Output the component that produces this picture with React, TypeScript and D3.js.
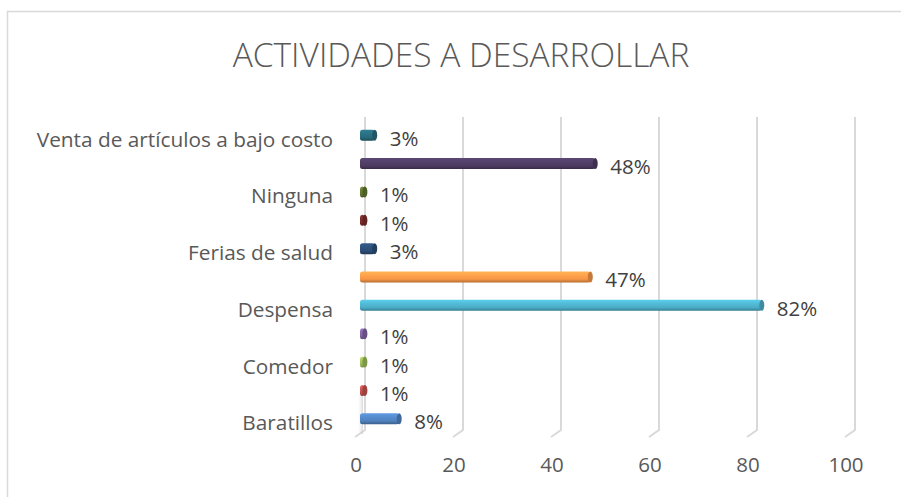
import React from "react";
import * as d3 from "d3";

const categories = [
  "Baratillos",
  "Baratillos (2)",
  "Comedor",
  "Comedor (2)",
  "Despensa",
  "Despensa (2)",
  "Ferias de salud",
  "Ferias de salud (2)",
  "Ninguna",
  "Ninguna (2)",
  "Venta de artículos a bajo costo",
];
const shownLabels = [true, false, true, false, true, false, true, false, true, false, true];
const values = [8, 1, 1, 1, 82, 47, 3, 1, 1, 48, 3];
const colors = [
  "#4F81BD", "#C0504D", "#9BBB59", "#8064A2", "#4BACC6", "#F79646",
  "#2C4D75", "#772C2A", "#5F7530", "#4D3B62", "#276A7C",
];
const ticks = [0, 20, 40, 60, 80, 100];
const title = "ACTIVIDADES A DESARROLLAR";

const W = 901, H = 497;
const FONT = "'Open Sans', 'Noto Sans', sans-serif";

export default function App() {
  const xFront = d3.scaleLinear().domain([0, 100]).range([355, 845]);
  const dx = 10, dy = 7;
  const y = d3.scaleBand<number>().domain(d3.range(categories.length)).range([433, 121]).paddingInner(0.6).paddingOuter(0.3);
  const gridTop = 117, gridBottom = 430;
  const barH = 11;
  return (
    <svg width={W} height={H} style={{ position: "fixed", left: 0, top: 0, background: "#fff" }}>
      <defs>
        {colors.map((c, i) => {
          const base = d3.color(c)!;
          return (
            <linearGradient key={i} id={`g${i}`} x1="0" y1="0" x2="0" y2="1">
              <stop offset="0%" stopColor={d3.color(c)!.brighter(0.5).formatHex()} />
              <stop offset="35%" stopColor={d3.color(c)!.brighter(0.25).formatHex()} />
              <stop offset="70%" stopColor={base.formatHex()} />
              <stop offset="100%" stopColor={d3.color(c)!.darker(0.9).formatHex()} />
            </linearGradient>
          );
        })}
        <linearGradient id="wall" x1="0" y1="0" x2="1" y2="0">
          <stop offset="0%" stopColor="#ffffff" stopOpacity="0" />
          <stop offset="100%" stopColor="#bfbfbf" />
        </linearGradient>
      </defs>
      <rect x={7.5} y={11.5} width={W + 10} height={H + 10} fill="#fff" stroke="#D9D9D9" strokeWidth={1.5} />
      <text x={461} y={58} textAnchor="middle" dominantBaseline="middle" fontFamily={FONT} fontWeight={300} fontSize={33.5} fill="#595959">
        {title}
      </text>
      {/* gridlines with 3D floor edge */}
      {ticks.map((t) => {
        const gx = xFront(t) + dx;
        return (
          <path key={t} d={`M${gx},${gridTop}V${gridBottom}L${gx - dx},${gridBottom + dy}`} fill="none" stroke="#D9D9D9" strokeWidth={2} />
        );
      })}
      <rect x={xFront(0) + 2} y={395} width={6} height={gridBottom - 395 + 4} fill="url(#wall)" opacity={0.6} />
      {/* bars */}
      {values.map((v, i) => {
        const cy = y(i)! + y.bandwidth() / 2;
        const x0 = xFront(0) + 5;
        const x1 = xFront(v) + 5;
        const r = 2.5;
        return (
          <g key={i}>
            <rect x={x0} y={cy - barH / 2} width={Math.max(x1 - x0, 2)} height={barH} rx={r} ry={r} fill={`url(#g${i})`} />
            <ellipse cx={x1} cy={cy} rx={2.5} ry={barH / 2} fill={d3.color(colors[i])!.darker(0.6).formatHex()} />
            <text x={x1 + 15} y={cy + 5} dominantBaseline="middle" fontFamily={FONT} fontSize={20.5} fill="#404040">
              {`${v}%`}
            </text>
          </g>
        );
      })}
      {/* category labels */}
      {categories.map((c, i) =>
        shownLabels[i] ? (
          <text key={c} x={333} y={y(i)! + y.bandwidth() / 2 + 6} textAnchor="end" dominantBaseline="middle" fontFamily={FONT} fontSize={20.8} fill="#595959">
            {c}
          </text>
        ) : null
      )}
      {/* x tick labels */}
      {ticks.map((t) => (
        <text key={t} x={xFront(t) + 1} y={467} textAnchor="middle" dominantBaseline="middle" fontFamily={FONT} fontSize={20.5} fill="#595959">
          {t}
        </text>
      ))}
    </svg>
  );
}
